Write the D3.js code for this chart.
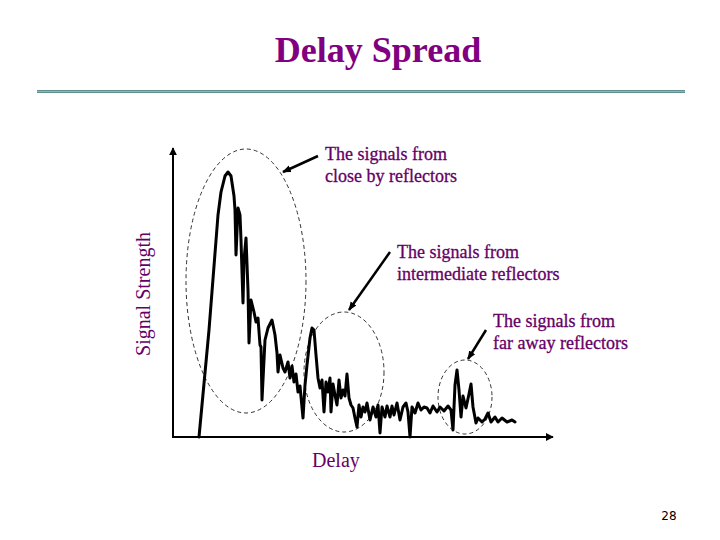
<!DOCTYPE html>
<html>
<head>
<meta charset="utf-8">
<script src="https://cdn.jsdelivr.net/npm/d3@7"></script>
<style>
  html, body { margin: 0; padding: 0; background: #ffffff; }
  svg { display: block; }
</style>
</head>
<body>
<svg id="chart" width="720" height="540"></svg>
<script>
// ---- Data (delay / strength in arbitrary units) ----
const delay = [26,36,45,48,52,55,58,61,62,63,
  65,67,68,70,71,73,75,76,78,81,
  83,85,87,88,89,92,95,99,102,104,
  105,107,110,112,115,117,119,121,123,125,
  127,130,132,134,137,139,141,143,145,147,
  149,151,153,155,157,158,160,162,164,166,
  168,170,172,174,176,178,180,182,184,186,
  188,190,192,194,197,200,203,205,207,209,
  212,214,217,219,221,224,227,230,233,235,
  237,239,242,245,248,251,254,257,260,264,
  267,271,275,278,280,282,284,286,288,290,
  293,296,298,300,303,305,309,312,315,318,
  322,325,329,334,339,342];
const strength = [0,107,222,245,261,265,261,241,227,182,
  229,222,197,134,177,199,147,94,137,125,
  115,119,92,90,37,97,109,117,102,84,
  65,82,69,65,75,59,71,55,63,45,
  51,19,52,72,99,109,107,82,59,49,
  57,25,55,45,59,25,53,42,32,57,
  39,47,41,63,39,32,29,19,10,32,
  20,30,25,34,17,30,20,32,4,30,
  20,31,20,31,22,34,17,30,34,25,
  0,30,24,34,27,30,29,24,31,25,
  30,26,31,27,7,52,67,47,20,41,
  29,43,53,30,14,19,15,18,24,15,
  20,15,19,15,17,15];

const annotationLines1 = ["The signals from", "close by reflectors"];
const annotationLines2 = ["The signals from", "intermediate reflectors"];
const annotationLines3 = ["The signals from", "far away reflectors"];
const titleText = "Delay Spread";
const xLabel = "Delay";
const yLabel = "Signal Strength";
const pageNumber = "28";

// Grouping ellipses (delay centre, strength centre, delay radius, strength radius)
const groupCx = [73, 171, 292];
const groupCy = [156, 65, 40];
const groupRx = [60, 40, 27];
const groupRy = [132, 60, 37];

// ---- Layout ----
const svg = d3.select("#chart");
const serif = "'Liberation Serif','Times New Roman',Times,serif";
const purple = "#660066";

const x = d3.scaleLinear().domain([0, 380]).range([173, 553]);
const y = d3.scaleLinear().domain([0, 289]).range([437, 148]);

// Title
svg.append("text")
  .attr("x", 378).attr("y", 62)
  .attr("text-anchor", "middle")
  .attr("font-family", serif)
  .attr("font-weight", "bold")
  .attr("font-size", 36)
  .attr("fill", "#800080")
  .text(titleText);

// Rule under the title
svg.append("line").attr("x1", 37).attr("x2", 685).attr("y1", 91.5).attr("y2", 91.5)
  .attr("stroke", "#5f8f8f").attr("stroke-width", 3);
svg.append("line").attr("x1", 37).attr("x2", 685).attr("y1", 91.5).attr("y2", 91.5)
  .attr("stroke", "#8fb5b5").attr("stroke-width", 1);

// Arrow markers
const defs = svg.append("defs");
defs.append("marker").attr("id", "axisArrow")
  .attr("viewBox", "0 0 10 10").attr("refX", 9).attr("refY", 5)
  .attr("markerWidth", 4).attr("markerHeight", 4).attr("orient", "auto")
  .append("path").attr("d", "M0,0 L10,5 L0,10 z").attr("fill", "#000");
defs.append("marker").attr("id", "annArrow")
  .attr("viewBox", "0 0 10 10").attr("refX", 9).attr("refY", 5)
  .attr("markerWidth", 3.5).attr("markerHeight", 3.5).attr("orient", "auto")
  .append("path").attr("d", "M0,1 L10,5 L0,9 z").attr("fill", "#000");

// Axes
svg.append("line")
  .attr("x1", x(0)).attr("y1", y(0)).attr("x2", x(0)).attr("y2", y(289))
  .attr("stroke", "#000").attr("stroke-width", 2).attr("marker-end", "url(#axisArrow)");
svg.append("line")
  .attr("x1", x(0) - 1).attr("y1", y(0)).attr("x2", x(380)).attr("y2", y(0))
  .attr("stroke", "#000").attr("stroke-width", 2).attr("marker-end", "url(#axisArrow)");

// Dashed group ellipses
svg.selectAll("ellipse.group")
  .data(groupCx.map((c, i) => ({cx: c, cy: groupCy[i], rx: groupRx[i], ry: groupRy[i]})))
  .join("ellipse")
  .attr("class", "group")
  .attr("cx", d => x(d.cx)).attr("cy", d => y(d.cy))
  .attr("rx", d => x(d.rx) - x(0)).attr("ry", d => y(0) - y(d.ry))
  .attr("fill", "none").attr("stroke", "#000").attr("stroke-width", 0.8)
  .attr("stroke-dasharray", "4,3");

// Signal trace
const pts = delay.map((d, i) => [d, strength[i]]);
svg.append("path")
  .datum(pts)
  .attr("d", d3.line().x(d => x(d[0])).y(d => y(d[1])))
  .attr("fill", "none").attr("stroke", "#000").attr("stroke-width", 3)
  .attr("stroke-linejoin", "round").attr("stroke-linecap", "round");

// Annotation arrows (from text to group)
const arrows = [
  {x1: 318, y1: 156, x2: 283, y2: 172},
  {x1: 390, y1: 252, x2: 349, y2: 310},
  {x1: 486, y1: 330, x2: 468, y2: 359}
];
svg.selectAll("line.ann").data(arrows).join("line").attr("class", "ann")
  .attr("x1", d => d.x1).attr("y1", d => d.y1).attr("x2", d => d.x2).attr("y2", d => d.y2)
  .attr("stroke", "#000").attr("stroke-width", 2.5).attr("marker-end", "url(#annArrow)");

// Annotation texts
function annot(lines, tx, ty) {
  const t = svg.append("text")
    .attr("font-family", serif).attr("font-size", 18).attr("fill", purple)
    .attr("stroke", purple).attr("stroke-width", 0.3);
  lines.forEach((l, i) => t.append("tspan").attr("x", tx).attr("y", ty + i * 22).text(l));
}
annot(annotationLines1, 325, 160);
annot(annotationLines2, 397, 258);
annot(annotationLines3, 493, 327);

// Axis labels
svg.append("text")
  .attr("x", 312).attr("y", 467)
  .attr("font-family", serif).attr("font-size", 20).attr("fill", purple)
  .text(xLabel);
svg.append("text")
  .attr("transform", "translate(150,294) rotate(-90)")
  .attr("text-anchor", "middle")
  .attr("font-family", serif).attr("font-size", 20).attr("fill", purple)
  .text(yLabel);

// Page number
svg.append("text")
  .attr("x", 669).attr("y", 520).attr("text-anchor", "middle")
  .attr("font-family", "'DejaVu Sans', Arial, sans-serif").attr("font-size", 12).attr("fill", "#000")
  .text(pageNumber);
</script>
</body>
</html>
